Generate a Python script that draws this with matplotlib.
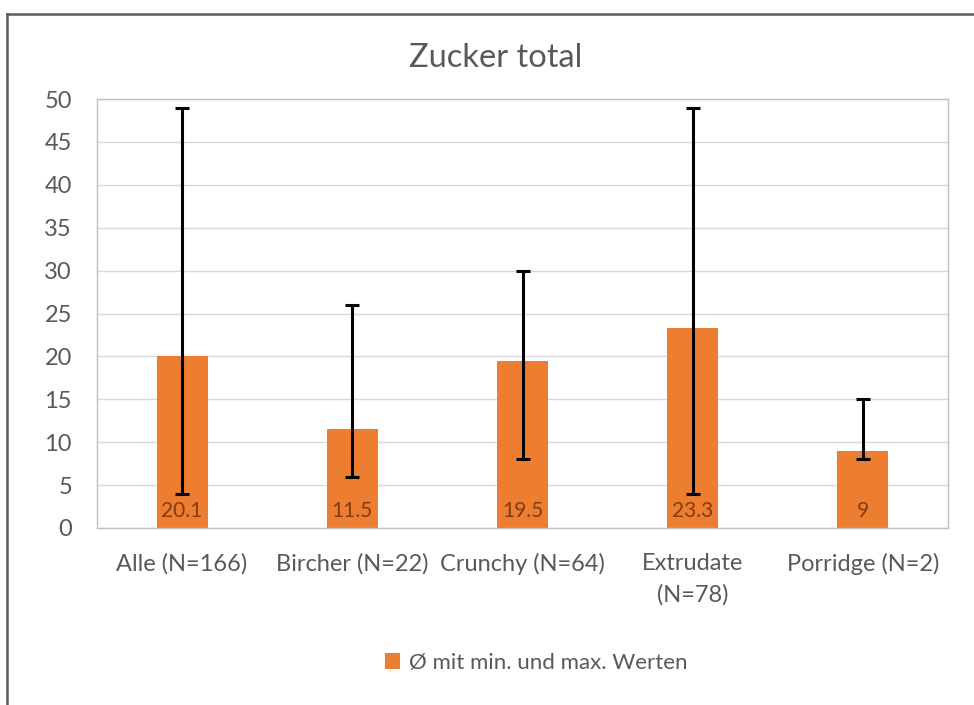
import matplotlib
matplotlib.use("Agg")
import matplotlib.pyplot as plt
from matplotlib.lines import Line2D
from matplotlib.patches import Patch
import numpy as np

categories = ["Alle (N=166)", "Bircher (N=22)", "Crunchy (N=64)", "Extrudate\n(N=78)", "Porridge (N=2)"]
means = [20.1, 11.5, 19.5, 23.3, 9]
mins = [4, 6, 8, 4, 8]
maxs = [49, 26, 30, 49, 15]
value_labels = ["20.1", "11.5", "19.5", "23.3", "9"]
yticks = [0, 5, 10, 15, 20, 25, 30, 35, 40, 45, 50]
title = "Zucker total"
legend_label = "Ø mit min. und max. Werten"

plt.rcParams['font.family'] = ['Lato', 'DejaVu Sans']

fig = plt.figure(figsize=(9.74, 7.05), dpi=100)
ax = fig.add_axes([97/974, 1-528/705, (948-97)/974, (528-99)/705])

x = np.arange(len(categories))
means_a = np.array(means)
yerr = [means_a - np.array(mins), np.array(maxs) - means_a]
bars = ax.bar(x, means, width=0.3, color="#ED7D31", zorder=2)
ax.errorbar(x, means, yerr=yerr, fmt='none', ecolor='black', elinewidth=2.2,
            capsize=5, capthick=2.2, zorder=3)

for xi, lab in zip(x, value_labels):
    ax.annotate(lab, (xi, 0), xytext=(0, 5), textcoords='offset points',
                ha='center', va='bottom', fontsize=15, color='#843C0C', zorder=4)

ax.set_xlim(-0.5, len(categories) - 0.5)
ax.set_ylim(0, 50)
ax.set_yticks(yticks)
ax.set_yticklabels([str(t) for t in yticks], fontsize=17, color='#595959')
ax.set_xticks(x)
ax.set_xticklabels(categories, fontsize=17, color='#595959', linespacing=1.6)
ax.tick_params(axis='both', length=0)
ax.tick_params(axis='y', pad=18)
ax.tick_params(axis='x', pad=18)
ax.grid(axis='y', color='#D9D9D9', lw=1, zorder=0)
ax.set_axisbelow(True)
for s in ax.spines.values():
    s.set_color('#BFBFBF')
    s.set_linewidth(1)

fig.text(496/974, 1-58/705, title, ha='center', va='center', fontsize=23.5, color='#595959')

handle = Patch(facecolor="#ED7D31", edgecolor='none')
fig.legend([handle], [legend_label], loc='center', bbox_to_anchor=(536/974, 1-663/705),
           frameon=False, fontsize=16, labelcolor='#595959', handlelength=0.7,
           handleheight=0.7, handletextpad=0.4)

fig.add_artist(Line2D([7/974, 1.0], [1-14/705, 1-14/705], transform=fig.transFigure,
                      color='#5A5A5A', lw=1.8))
fig.add_artist(Line2D([7/974, 7/974], [0, 1-14/705], transform=fig.transFigure,
                      color='#5A5A5A', lw=1.8))

fig.savefig("out.png", dpi=100)
